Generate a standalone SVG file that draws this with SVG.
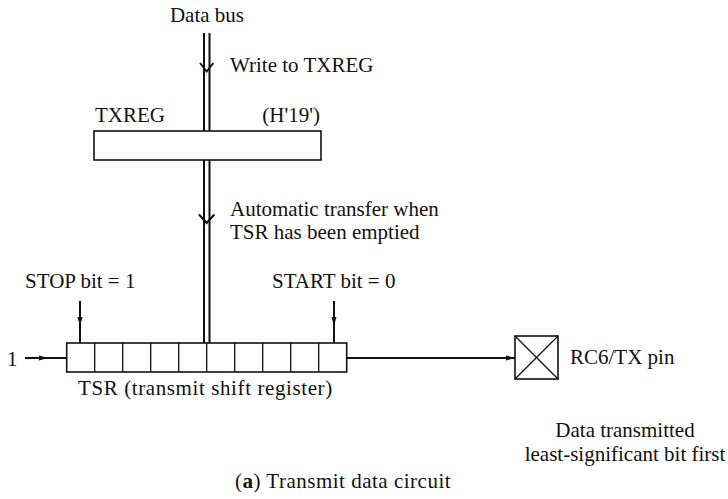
<svg xmlns="http://www.w3.org/2000/svg" width="728" height="499" viewBox="0 0 728 499">
  <style>
    text { font-family: "Liberation Serif", "Times New Roman", serif; font-size: 21px; fill: #111; }
    .box { fill: #fff; stroke: #111; stroke-width: 1.6; }
    .cell { stroke: #111; stroke-width: 1.3; fill: none; }
    .wire { stroke: #111; stroke-width: 2; fill: none; }
    .bus { stroke: #111; stroke-width: 2; fill: none; }
    .chev { stroke: #111; stroke-width: 2; fill: none; stroke-linejoin: miter; }
    .head { fill: #111; }
  </style>

  <!-- connectors -->
  <g id="connectors">
    <!-- data bus (double line) -->
    <path class="bus" d="M204 33 V131 M209.5 33 V131 M204 160 V343 M209.5 160 V343"/>
    <path class="chev" d="M200 63 L206.7 71.5 L213.4 63"/>
    <path class="chev" d="M199 214.5 L206.7 223 L214.4 214.5"/>
    <!-- STOP bit input -->
    <path class="wire" d="M80 301 V343"/>
    <path class="head" d="M77.5 317 L82.5 317 L80 326 Z"/>
    <!-- START bit input -->
    <path class="wire" d="M334 301 V343"/>
    <path class="head" d="M331.5 317 L336.5 317 L334 326 Z"/>
    <!-- serial input 1 -->
    <path class="wire" d="M25 358 H66.7"/>
    <path class="head" d="M39 355.5 L39 360.5 L48 358 Z"/>
    <!-- serial output to pin -->
    <path class="wire" d="M346.7 358 H515"/>
    <path class="head" d="M506 355.5 L506 360.5 L515 358 Z"/>
  </g>

  <!-- TXREG -->
  <g id="txreg">
    <rect class="box" x="94" y="131" width="227" height="29"/>
    <text x="95" y="122">TXREG</text>
    <text x="320" y="122" text-anchor="end">(H'19')</text>
  </g>

  <!-- TSR -->
  <g id="tsr">
    <rect class="box" x="66.7" y="343" width="280" height="29"/>
    <path class="cell" d="M94.7 343 V372 M122.7 343 V372 M150.7 343 V372 M178.7 343 V372 M206.7 343 V372 M234.7 343 V372 M262.7 343 V372 M290.7 343 V372 M318.7 343 V372"/>
    <text x="78" y="395" letter-spacing="0.6">TSR (transmit shift register)</text>
  </g>

  <!-- RC6/TX pin -->
  <g id="pin">
    <rect class="box" x="515" y="336" width="43" height="43"/>
    <path class="cell" d="M515 336 L558 379 M558 336 L515 379"/>
    <text x="570" y="364">RC6/TX pin</text>
  </g>

  <!-- labels -->
  <g id="labels">
    <text x="207" y="22" text-anchor="middle">Data bus</text>
    <text x="230" y="71.5">Write to TXREG</text>
    <text x="230" y="216">Automatic transfer when</text>
    <text x="230" y="239">TSR has been emptied</text>
    <text x="25" y="288">STOP bit = 1</text>
    <text x="272" y="288">START bit = 0</text>
    <text x="7" y="366">1</text>
    <text x="625" y="437" text-anchor="middle">Data transmitted</text>
    <text x="625" y="461" text-anchor="middle">least-significant bit first</text>
    <text x="235" y="488" letter-spacing="0.5">(<tspan font-weight="bold">a</tspan>) Transmit data circuit</text>
  </g>
</svg>
